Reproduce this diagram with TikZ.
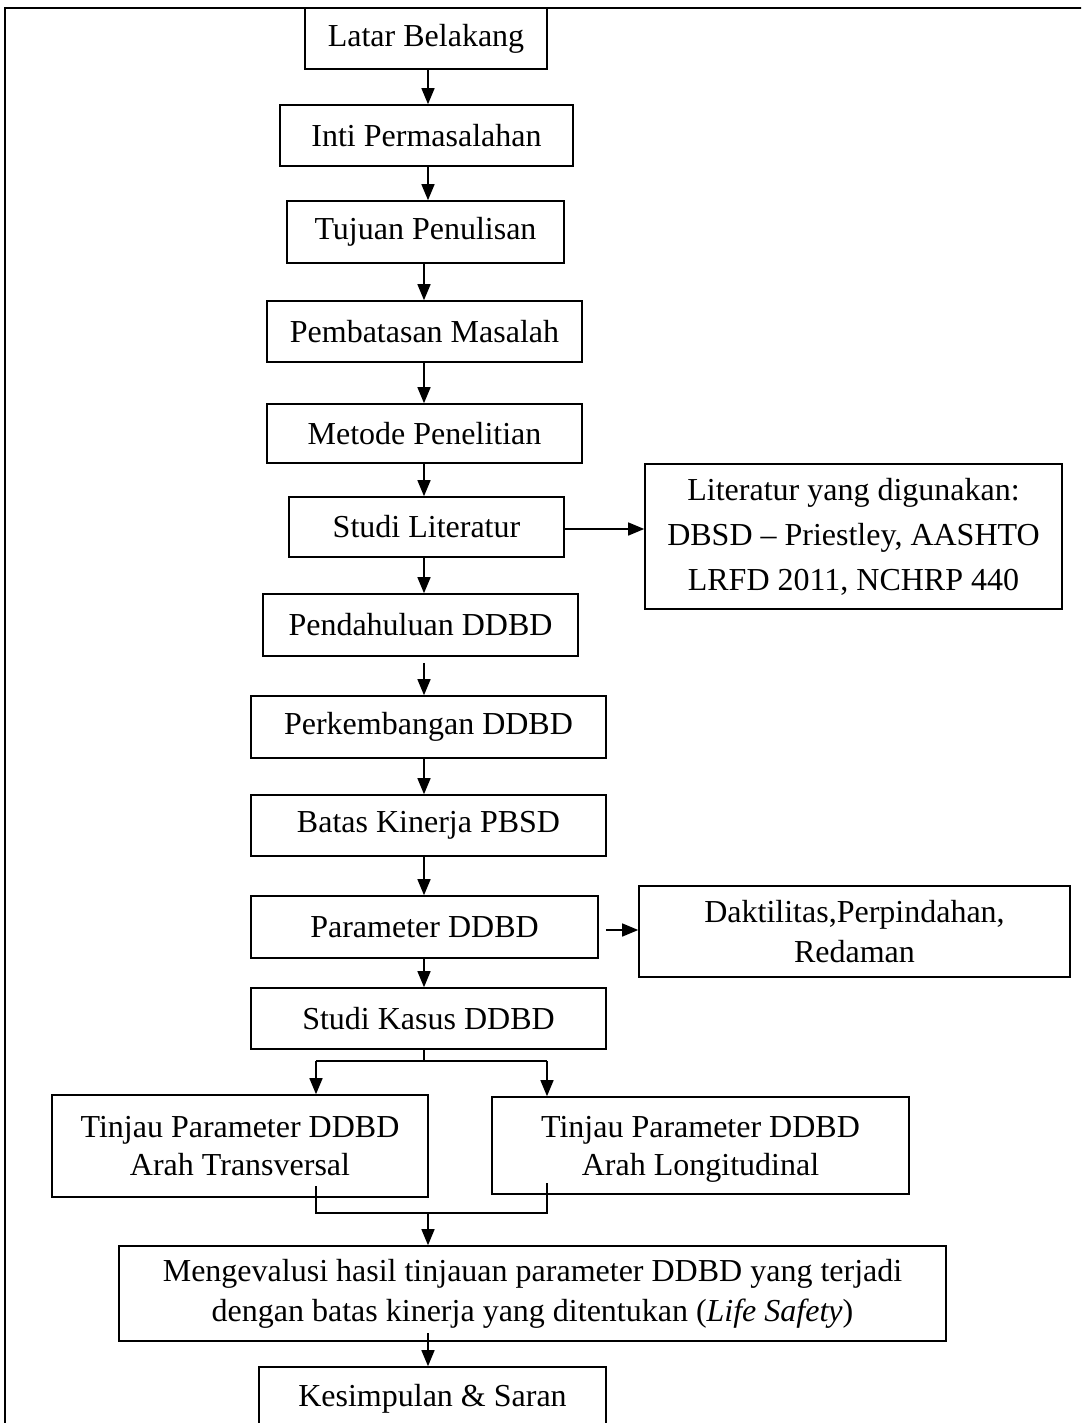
\documentclass[tikz,border=0pt]{standalone}
\usepackage{fontspec}
\setmainfont{Liberation Serif}
\usetikzlibrary{arrows.meta}
\begin{document}
\begin{tikzpicture}[x=1pt,y=-1pt,
  box/.style={draw, line width=1.6pt, inner sep=0pt, align=center,
    font=\fontsize{32}{40}\selectfont},
  arr/.style={line width=1.4pt, -{Triangle[length=16pt,width=13pt]}},
  ln/.style={line width=1.4pt}]
\useasboundingbox (0,0) rectangle (1081,1423);
\clip (0,0) rectangle (1081,1423);
% outer frame
\draw[line width=2pt] (5,1500) -- (5,8) -- (1120,8);
% main chain
\node[box, minimum width=242, minimum height=61] (lb) at (426,38.5) {Latar Belakang};
\node[box, minimum width=293, minimum height=61] (ip) at (426.5,135.5) {Inti Permasalahan};
\node[box, minimum width=277, minimum height=62] (tp) at (425.5,232) {Tujuan Penulisan};
\node[box, minimum width=315, minimum height=61] (pm) at (424.5,331.5) {Pembatasan Masalah};
\node[box, minimum width=315, minimum height=59] (mp) at (424.5,433.5) {Metode Penelitian};
\node[box, minimum width=275, minimum height=60] (sl) at (426.5,527) {Studi Literatur};
\node[box, minimum width=315, minimum height=62] (pd) at (420.5,625) {Pendahuluan DDBD};
\node[box, minimum width=355, minimum height=62] (pk) at (428.5,727) {Perkembangan DDBD};
\node[box, minimum width=355, minimum height=61] (bk) at (428.5,825.5) {Batas Kinerja PBSD};
\node[box, minimum width=347, minimum height=62] (pa) at (424.5,927) {Parameter DDBD};
\node[box, minimum width=355, minimum height=61] (sk) at (428.5,1018.5) {Studi Kasus DDBD};
\node[box, minimum width=376, minimum height=102, font=\fontsize{32}{38}\selectfont] (tt) at (240,1146) {Tinjau Parameter DDBD\\Arah Transversal};
\node[box, minimum width=417, minimum height=97, font=\fontsize{32}{38}\selectfont] (tl) at (700.5,1145.5) {\rule{0pt}{28pt}Tinjau Parameter DDBD\\Arah Longitudinal};
\node[box, minimum width=827, minimum height=95] (ev) at (532.5,1293.5) {Mengevalusi hasil tinjauan parameter DDBD yang terjadi\\dengan batas kinerja yang ditentukan (\textit{Life Safety})};
\node[box, minimum width=347, minimum height=63] (ks) at (432.5,1398.5) {Kesimpulan \& Saran};
% side boxes
\node[box, minimum width=417, minimum height=145, font=\fontsize{32}{45}\selectfont] (lit) at (853.5,536.5)
  {Literatur yang digunakan:\\DBSD – Priestley, AASHTO\\LRFD 2011, NCHRP 440};
\node[box, minimum width=431, minimum height=91] (dak) at (854.5,931.5) {Daktilitas,Perpindahan,\\Redaman};
% spine coordinates
\coordinate (sa) at (428,0);
\coordinate (sb) at (424,0);
\draw[arr] (sa |- lb.south) -- (sa |- ip.north);
\draw[arr] (sa |- ip.south) -- (sa |- tp.north);
\draw[arr] (sb |- tp.south) -- (sb |- pm.north);
\draw[arr] (sb |- pm.south) -- (sb |- mp.north);
\draw[arr] (sb |- mp.south) -- (sb |- sl.north);
\draw[arr] (sb |- sl.south) -- (sb |- pd.north);
\draw[arr, shorten <=6pt] (sb |- pd.south) -- (sb |- pk.north);
\draw[arr] (sb |- pk.south) -- (sb |- bk.north);
\draw[arr] (sb |- bk.south) -- (sb |- pa.north);
\draw[arr] (sb |- pa.south) -- (sb |- sk.north);
% side arrows
\draw[arr] (sl.east |- 0,529) -- (lit.west |- 0,529);
\draw[arr, shorten <=7pt] (pa.east |- 0,930) -- (dak.west |- 0,930);
% branch
\coordinate (br) at (424,1061);
\coordinate (bl) at (316,1061);
\coordinate (brr) at (547,1061);
\draw[ln] (sb |- sk.south) -- (br);
\draw[ln] (bl) -- (brr);
\draw[arr] (bl) -- (bl |- tt.north);
\draw[arr] (brr) -- (brr |- tl.north);
% merge
\coordinate (m1) at (316,1186);
\coordinate (m2) at (547,1183);
\coordinate (mj) at (428,1213);
\draw[ln] (m1) -- (316,1213) -- (547,1213) -- (m2);
\draw[arr] (mj) -- (mj |- ev.north);
\coordinate (e1) at (428,1333);
\draw[arr] (e1) -- (e1 |- ks.north);
\end{tikzpicture}
\end{document}
